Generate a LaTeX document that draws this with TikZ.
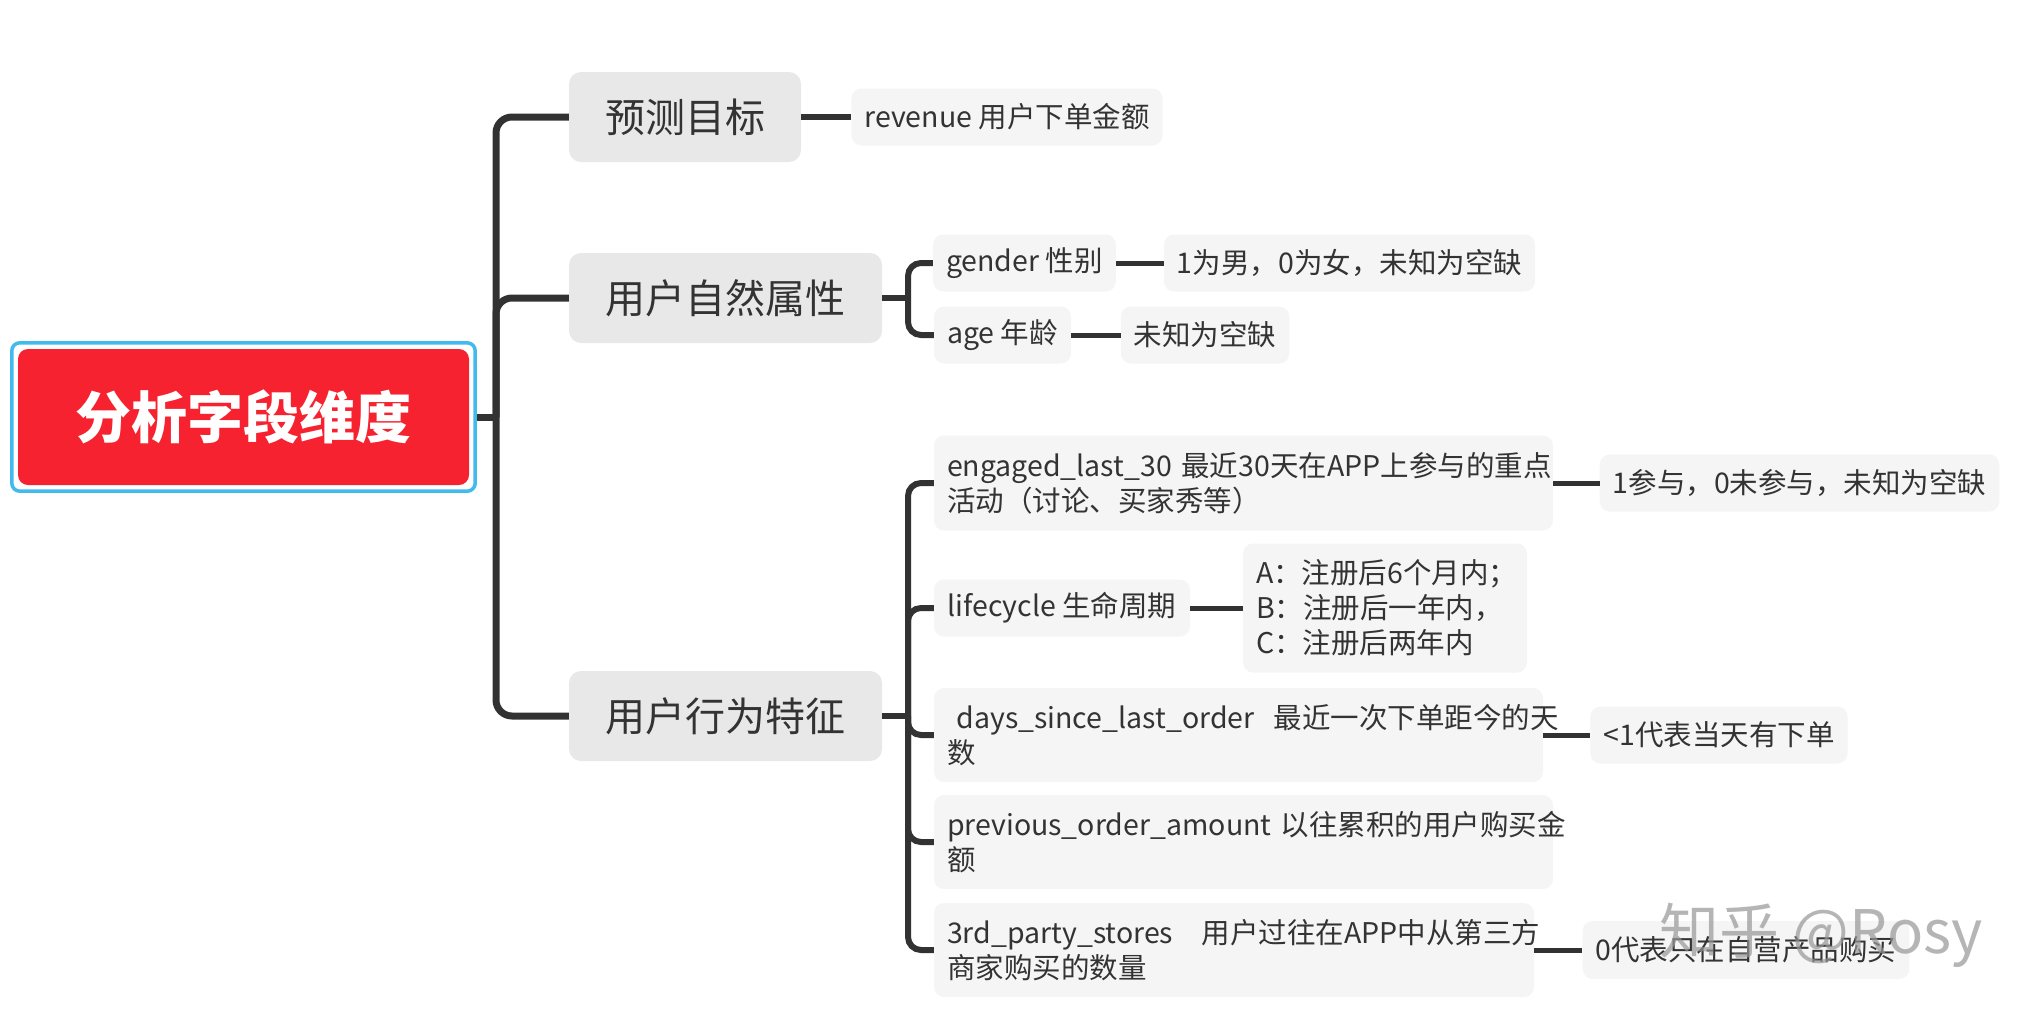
\documentclass[tikz,border=0pt]{standalone}
\usepackage{fontspec}
\setmainfont{Noto Sans CJK SC}
\usetikzlibrary{fit}
\definecolor{linec}{RGB}{50,50,50}
\definecolor{txt}{RGB}{51,51,51}
\definecolor{branchfill}{RGB}{232,232,232}
\definecolor{leaffill}{RGB}{245,245,245}
\definecolor{rootred}{RGB}{246,34,48}
\definecolor{rootblue}{RGB}{66,186,238}
\definecolor{wmgray}{RGB}{150,150,150}
\newcommand\myrootfont{\fontsize{56}{60}\selectfont\bfseries}
\newcommand\mybranchfont{\fontsize{40}{48}\selectfont}
\newcommand\myleaffont{\fontsize{28.5}{35}\selectfont}
\newcommand\oneline[1]{\mbox{#1}}
\tikzset{
  rootbox/.style={fill=rootred, rounded corners=10pt, text=white, font=\myrootfont,
    minimum width=451pt, minimum height=136pt, inner sep=0pt},
  rootframe/.style={draw=rootblue, line width=3.5pt, rounded corners=8pt, inner sep=6pt},
  branchbox/.style={fill=branchfill, rounded corners=12pt, text=txt, font=\mybranchfont,
    minimum height=90pt, inner sep=0pt},
  leafbox/.style={fill=leaffill, rounded corners=10pt, text=txt, font=\myleaffont,
    minimum height=57pt, inner xsep=13pt, inner ysep=0pt},
  multibox/.style={leafbox, align=left},
  lev1/.style={draw=linec, line width=7pt},
  lev2/.style={draw=linec, line width=6pt},
  lev3/.style={draw=linec, line width=5pt},
  watermark/.style={text=wmgray, text opacity=0.7, font=\fontsize{60}{66}\selectfont}
}
\begin{document}
\begin{tikzpicture}[x=1pt,y=-1pt]
\useasboundingbox (0,0) rectangle (2043,1020);
% root
\node[rootbox] (root) at (243.5,417) {分析字段维度};
\node[rootframe, fit=(root)] (rootframe) {};
% branches
\node[branchbox, minimum width=232pt] (b1) at (685,117) {预测目标};
\node[branchbox, minimum width=313pt] (b2) at (725.5,298) {用户自然属性};
\node[branchbox, minimum width=313pt] (b3) at (725.5,716) {用户行为特征};
% leaves
\node[leafbox, minimum width=308pt] (revenue) at (1007,117) {revenue 用户下单金额};
\node[leafbox, minimum width=181pt] (gender) at (1024.5,263) {gender 性别};
\node[leafbox, minimum width=361pt] (gval) at (1349.5,263) {1为男，0为女，未知为空缺};
\node[leafbox, minimum width=137pt] (age) at (1002.5,335) {age 年龄};
\node[leafbox, minimum width=164pt] (aval) at (1205,335) {未知为空缺};
\node[multibox, text width=593pt, minimum height=95pt] (engaged) at (1243.5,483)
  {\oneline{engaged\_last\_30 最近30天在APP上参与的重点}\\\oneline{活动（讨论、买家秀等）}};
\node[leafbox, minimum width=389pt] (eval) at (1799.5,483) {1参与，0未参与，未知为空缺};
\node[leafbox, minimum width=256pt] (life) at (1062,608) {lifecycle 生命周期};
\node[multibox, text width=258pt, minimum height=129pt] (abc) at (1385,608)
  {\oneline{A：注册后6个月内；}\\\oneline{B：注册后一年内，}\\\oneline{C：注册后两年内}};
\node[multibox, text width=583pt, minimum height=94pt] (days) at (1238.5,735)
  {\oneline{\ days\_since\_last\_order\ \ 最近一次下单距今的天}\\\oneline{数}};
\node[leafbox, minimum width=246pt] (dval) at (1719,735) {<1代表当天有下单};
\node[multibox, text width=593pt, minimum height=94pt] (previous) at (1243.5,842)
  {\oneline{previous\_order\_amount 以往累积的用户购买金}\\\oneline{额}};
\node[multibox, text width=574pt, minimum height=94pt] (third) at (1234,950)
  {\oneline{3rd\_party\_stores\ \ \ 用户过往在APP中从第三方}\\\oneline{商家购买的数量}};
\node[leafbox, minimum width=320pt, minimum height=58pt] (tval) at (1746,950) {0代表只在自营产品购买};
% connectors
\coordinate (J) at (496,417);
\draw[lev1] (rootframe.east) -- (J);
\draw[lev1, rounded corners=16pt] (J) |- (b1.west);
\draw[lev1, rounded corners=16pt] (J) |- (b2.west);
\draw[lev1, rounded corners=16pt] (J) |- (b3.west);
\draw[lev2] (b1.east) -- (revenue.west);
\coordinate (J2) at (908,298);
\draw[lev2] (b2.east) -- (J2);
\draw[lev2, rounded corners=13pt] (J2) |- (gender.west);
\draw[lev2, rounded corners=13pt] (J2) |- (age.west);
\draw[lev3] (gender.east) -- (gval.west);
\draw[lev3] (age.east) -- (aval.west);
\coordinate (J3) at (908,716);
\draw[lev2] (b3.east) -- (J3);
\foreach \c in {engaged,life,days,previous,third}
  \draw[lev2, rounded corners=13pt] (J3) |- (\c.west);
\draw[lev3] (engaged.east) -- (eval.west);
\draw[lev3] (life.east) -- (abc.west);
\draw[lev3] (days.east) -- (dval.west);
\draw[lev3] (third.east) -- (tval.west);
% watermark
\node[watermark] (wm) at (1821,935) {知乎 @Rosy};
\end{tikzpicture}
\end{document}
